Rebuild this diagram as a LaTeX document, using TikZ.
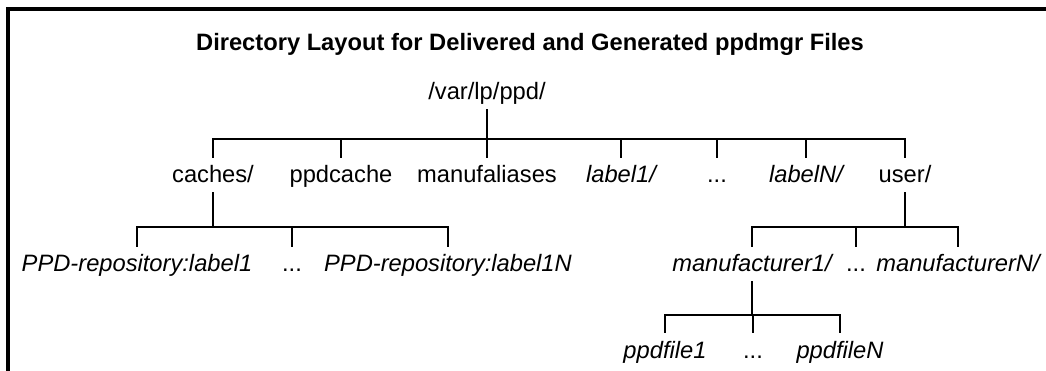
\documentclass[tikz,border=0pt]{standalone}
\usepackage{fontspec}
\setmainfont{Liberation Sans}
\usetikzlibrary{positioning}
\tikzstyle{dir}=[inner sep=0pt,text height=25pt,text depth=9pt,anchor=base,font=\fontsize{23.7}{28}\selectfont]
\tikzstyle{var}=[dir,font=\fontsize{23.7}{28}\selectfont\itshape]
\tikzstyle{heading}=[inner sep=0pt,anchor=base,font=\fontsize{23.7}{28}\selectfont\bfseries]
\tikzstyle{branch}=[line width=2.4pt]
\tikzstyle{frame}=[line width=4pt]

\begin{document}
\begin{tikzpicture}[x=1pt,y=-1pt]
        \useasboundingbox (0,0) rectangle (1046,371);
        \draw[frame] (8,371) -- (8,9) -- (1046,9);
        \node at (530,51) [heading] (title) {Directory Layout for Delivered and Generated ppdmgr Files};
        \node at (487,100) [dir] (root) {/var/lp/ppd/};
        % second level
        \node at (213,183) [dir] (caches) {caches/};
        \node at (341,183) [dir] (ppdcache) {ppdcache};
        \node at (487,183) [dir] (alias) {manufaliases};
        \node at (621,183) [var] (lab1) {label1/};
        \node at (717,183) [dir] (labdots) {...};
        \node at (806,183) [var] (labN) {labelN/};
        \node at (905,183) [dir] (user) {user/};
        % third level
        \node at (137,272) [var] (repo1) {PPD-repository:label1};
        \node at (292,272) [dir] (repodots) {...};
        \node at (448,272) [var] (repoN) {PPD-repository:label1N};
        \node at (752,272) [var] (manu1) {manufacturer1/};
        \node at (856,272) [dir] (manudots) {...};
        \node at (958,272) [var] (manuN) {manufacturerN/};
        % fourth level
        \node at (665,358) [var] (ppd1) {ppdfile1};
        \node at (753,358) [dir] (ppddots) {...};
        \node at (840,358) [var] (ppdN) {ppdfileN};
        % branches
        \draw[branch] (caches.north) -- ++(0,-19) coordinate (bar1) -| (user.north);
        \foreach \n in {ppdcache,alias,lab1,labdots,labN}
          \draw[branch] (\n.north) -- (\n.north |- bar1);
        \draw[branch] (root.south) -- (root.south |- bar1);
        \draw[branch] (repo1.north) -- ++(0,-20) coordinate (bar2) -| (repoN.north);
        \draw[branch] (repodots.north) -- (repodots.north |- bar2);
        \draw[branch] (caches.south) -- (caches.south |- bar2);
        \draw[branch] (manu1.north) -- ++(0,-20) coordinate (bar3) -| (manuN.north);
        \draw[branch] (manudots.north) -- (manudots.north |- bar3);
        \draw[branch] (user.south) -- (user.south |- bar3);
        \draw[branch] (ppd1.north) -- ++(0,-18) coordinate (bar4) -| (ppdN.north);
        \draw[branch] (ppddots.north) -- (ppddots.north |- bar4);
        \draw[branch] (manu1.south) -- (manu1.south |- bar4);
      \end{tikzpicture}
\end{document}
